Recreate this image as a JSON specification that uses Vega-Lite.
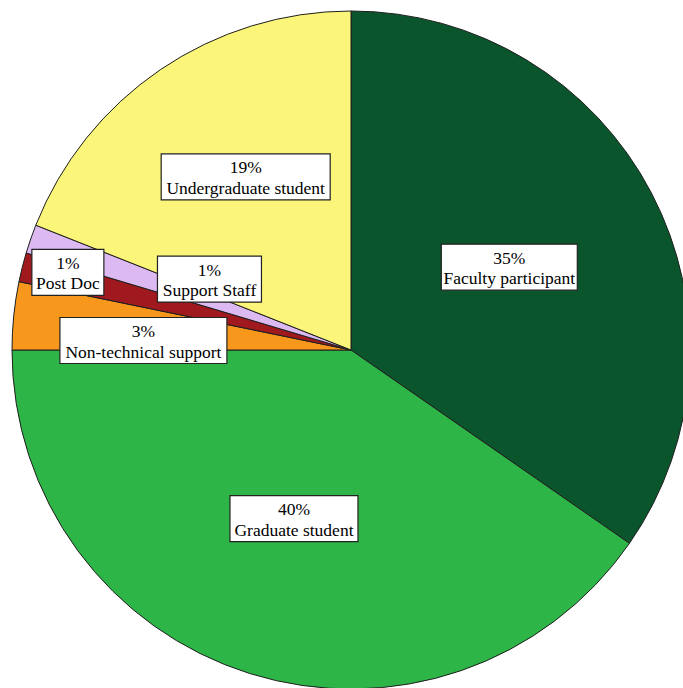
{
  "$schema": "https://vega.github.io/schema/vega-lite/v6.json",
  "width": 664,
  "height": 676,
  "padding": {"left": 19, "top": 12, "right": 0, "bottom": 0},
  "autosize": {"type": "none"},
  "background": "white",
  "config": {"view": {"stroke": null}},
  "data": {
    "values": [
      {"category": "Faculty participant", "share": 0.3466, "order": 1},
      {"category": "Graduate student", "share": 0.4034, "order": 2},
      {"category": "Non-technical support", "share": 0.0323, "order": 3},
      {"category": "Post Doc", "share": 0.0139, "order": 4},
      {"category": "Support Staff", "share": 0.0138, "order": 5},
      {"category": "Undergraduate student", "share": 0.19, "order": 6}
    ]
  },
  "layer": [
    {
      "mark": {"type": "arc", "outerRadius": 339, "stroke": "#1e1e1e", "strokeWidth": 1},
      "encoding": {
        "theta": {"field": "share", "type": "quantitative", "stack": true},
        "order": {"field": "order", "type": "quantitative"},
        "color": {
          "field": "category",
          "type": "nominal",
          "scale": {
            "domain": ["Faculty participant", "Graduate student", "Non-technical support", "Post Doc", "Support Staff", "Undergraduate student"],
            "range": ["#0b552d", "#2eb548", "#f7981d", "#a0191e", "#dcb9f0", "#fbf57a"]
          },
          "legend": null
        }
      }
    },
    {
      "transform": [
        {"window": [{"op": "sum", "field": "share", "as": "cum"}], "sort": [{"field": "order", "order": "ascending"}]},
        {"calculate": "{'Faculty participant': 0.527, 'Graduate student': 0.525, 'Non-technical support': 0.613, 'Post Doc': 0.866, 'Support Staff': 0.467, 'Undergraduate student': 0.598}[datum.category]", "as": "lr"},
        {"calculate": "2 * PI * (datum.cum - datum.share / 2) + PI / 180 * {'Faculty participant': 0, 'Graduate student': 1.3, 'Non-technical support': -3.2, 'Post Doc': 1.2, 'Support Staff': 7.5, 'Undergraduate student': 2.9}[datum.category]", "as": "ang"},
        {"calculate": "datum.lr * sin(datum.ang)", "as": "lx"},
        {"calculate": "datum.lr * cos(datum.ang)", "as": "ly"}
      ],
      "encoding": {
        "x": {"field": "lx", "type": "quantitative", "scale": {"domain": [-0.97935, 0.97935], "nice": false, "zero": false}, "axis": null},
        "y": {"field": "ly", "type": "quantitative", "scale": {"domain": [-0.99705, 0.99705], "nice": false, "zero": false}, "axis": null}
      },
      "layer": [
        {
          "mark": {"type": "point", "filled": true, "fill": "white", "stroke": "#222222", "strokeWidth": 1.2, "size": 4, "opacity": 1, "fillOpacity": 1},
          "encoding": {
            "shape": {
              "field": "category",
              "type": "nominal",
              "scale": {
                "domain": ["Faculty participant", "Graduate student", "Non-technical support", "Post Doc", "Support Staff", "Undergraduate student"],
                "range": ["M-68,-23H68V23H-68Z", "M-64,-23H64V23H-64Z", "M-83.5,-23H83.5V23H-83.5Z", "M-36,-23H36V23H-36Z", "M-52,-23H52V23H-52Z", "M-84.5,-23H84.5V23H-84.5Z"]
              },
              "legend": null
            }
          }
        },
        {
          "mark": {"type": "text", "font": "Liberation Serif", "fontSize": 17.5, "baseline": "alphabetic", "align": "center", "dy": -3.5, "color": "black"},
          "encoding": {"text": {"field": "share", "type": "quantitative", "format": ".0%"}}
        },
        {
          "mark": {"type": "text", "font": "Liberation Serif", "fontSize": 17.5, "baseline": "alphabetic", "align": "center", "dy": 17, "color": "black"},
          "encoding": {"text": {"field": "category", "type": "nominal"}}
        }
      ]
    }
  ]
}
